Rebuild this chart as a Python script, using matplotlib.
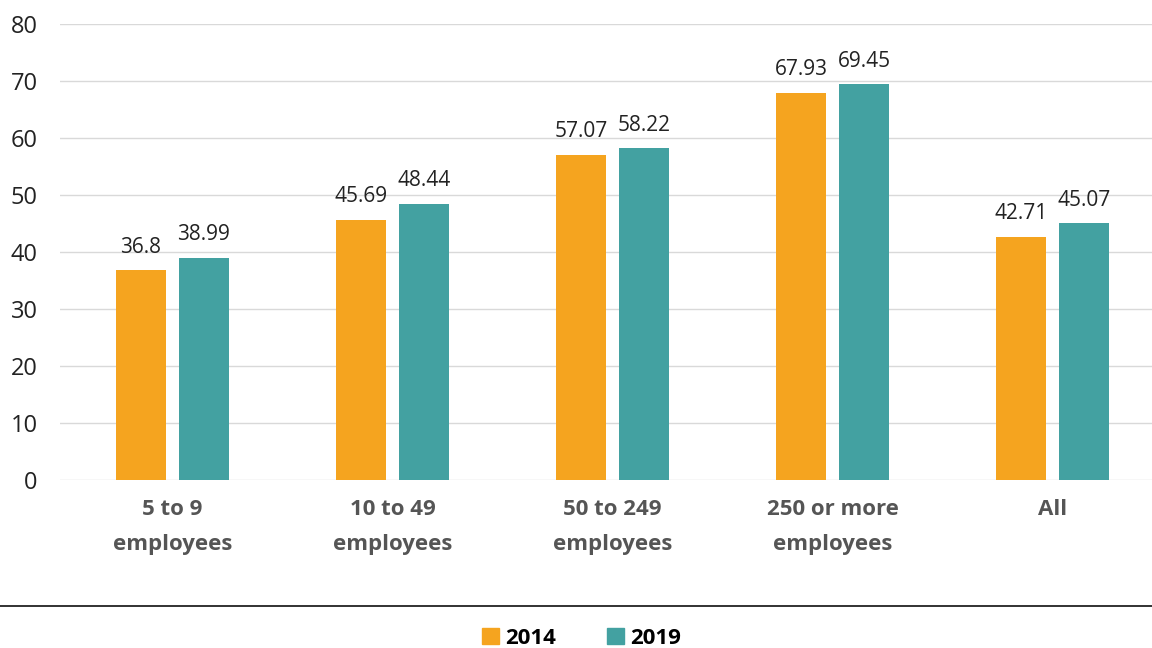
import numpy as np
import matplotlib.pyplot as plt
from matplotlib.lines import Line2D
from matplotlib.patches import Patch

categories = ["5 to 9\nemployees", "10 to 49\nemployees", "50 to 249\nemployees",
              "250 or more\nemployees", "All"]
vals_2014 = [36.8, 45.69, 57.07, 67.93, 42.71]
vals_2019 = [38.99, 48.44, 58.22, 69.45, 45.07]
labels_2014 = ["36.8", "45.69", "57.07", "67.93", "42.71"]
labels_2019 = ["38.99", "48.44", "58.22", "69.45", "45.07"]
series_names = ["2014", "2019"]

c14 = "#F5A41F"
c19 = "#43A1A1"

plt.rcParams['font.family'] = ['Open Sans', 'DejaVu Sans']

fig = plt.figure(figsize=(11.52, 6.48), dpi=100)
ax = fig.add_axes([0.052, 0.2593, 0.948, 0.7037])

x = np.arange(len(categories))
w = 0.227
off = 0.143
b1 = ax.bar(x - off, vals_2014, w, color=c14, zorder=3)
b2 = ax.bar(x + off, vals_2019, w, color=c19, zorder=3)

for bars, labs in [(b1, labels_2014), (b2, labels_2019)]:
    for b, t in zip(bars, labs):
        ax.text(b.get_x() + b.get_width() / 2, b.get_height() + 2.2, t,
                ha="center", va="bottom", fontsize=15, color="#222222")

ax.set_ylim(0, 80)
ax.set_xlim(-0.51, 4.45)
ax.set_yticks(range(0, 81, 10))
ax.grid(axis="y", color="#d9d9d9", linewidth=1, zorder=0)
for s in ax.spines.values():
    s.set_visible(False)
ax.tick_params(axis="y", length=0, pad=16, labelsize=17, labelcolor="#222222")
ax.tick_params(axis="x", length=0, pad=14)
ax.set_xticks(x)
ax.set_xticklabels(categories, fontsize=16, fontweight="bold", color="#555555",
                   linespacing=1.85)

fig.add_artist(Line2D([0, 1], [1 - 606 / 648, 1 - 606 / 648], color="#222222",
                      linewidth=1.3, transform=fig.transFigure))

handles = [Patch(color=c14), Patch(color=c19)]
fig.legend(handles, series_names, loc="center", bbox_to_anchor=(0.505, 1 - 638 / 648),
           ncol=2, frameon=False, handlelength=0.75, handleheight=0.75,
           handletextpad=0.3, columnspacing=2.3,
           prop={"size": 16, "weight": "bold"})

fig.savefig("out.png", dpi=100)
